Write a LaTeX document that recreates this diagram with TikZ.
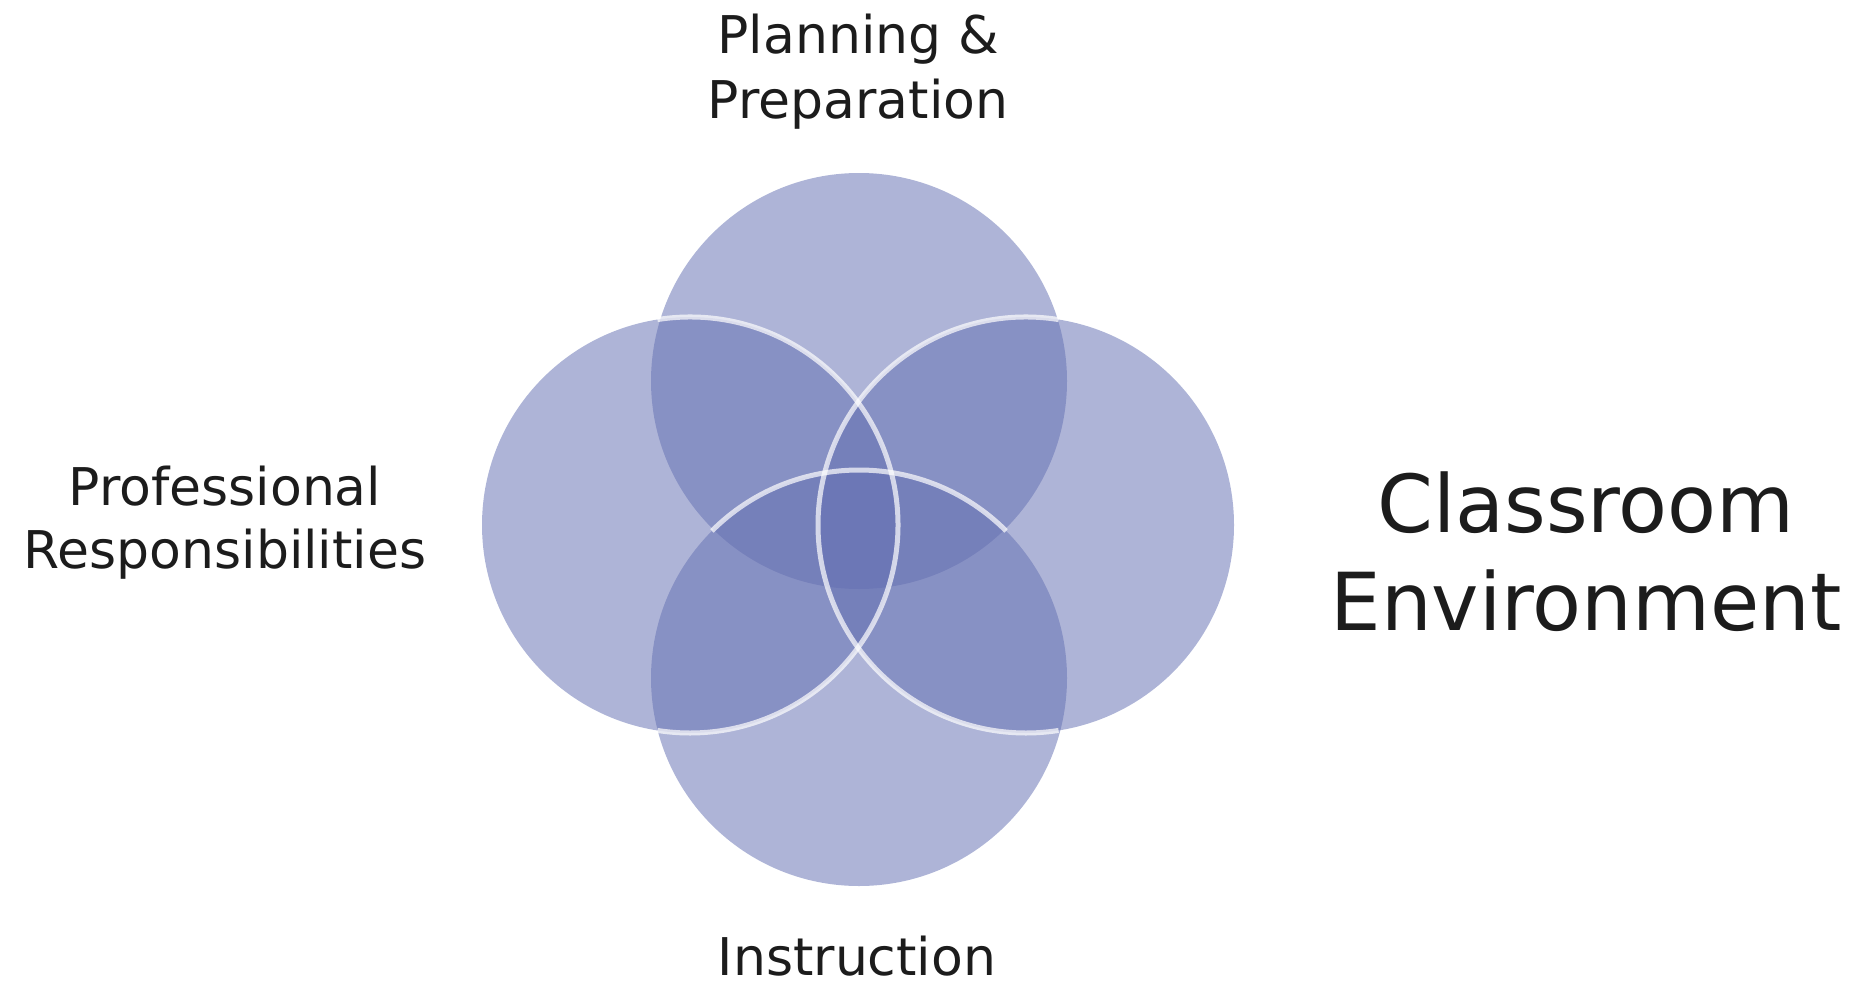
\documentclass[tikz,border=0pt]{standalone}
\usepackage{fontspec}
\setmainfont{DejaVu Sans}
\definecolor{vennblue}{RGB}{100,112,178}
\definecolor{inkgray}{RGB}{28,28,28}

\begin{document}
\begin{tikzpicture}[x=1pt,y=-1pt,
    venn/.style={fill=vennblue,fill opacity=0.52},
    rim/.style={draw=white,draw opacity=0.7,line width=5pt},
    lbl/.style={inner sep=0pt,anchor=base,align=center,text=inkgray}]
    \useasboundingbox (0,0) rectangle (1860,985);
    \coordinate (T) at (859,381);
    \coordinate (R) at (1026,525);
    \coordinate (B) at (859,678);
    \coordinate (L) at (690,525);
    \foreach \c in {T,R,B,L}
        \fill[venn] (\c) circle (208);
    % white rims only where the circles overlap (y runs downwards)
    \draw[rim] (L) ++(-99:208) arc[start angle=-99,end angle=99,radius=208];
    \draw[rim] (R) ++(-81:208) arc[start angle=-81,end angle=-279,radius=208];
    \draw[rim] (B) ++(-45:208) arc[start angle=-45,end angle=-135,radius=208];
    % base anchor sits on the last line
    \node[lbl,font=\fontsize{52}{65}\selectfont] (plan) at (858,118) {Planning \&\\Preparation};
    \node[lbl,font=\fontsize{52}{63}\selectfont] (prof) at (225,568) {Professional\\Responsibilities};
    \node[lbl,font=\fontsize{52}{65}\selectfont] (inst) at (857,975) {Instruction};
    \node[lbl,font=\fontsize{80}{98}\selectfont] (clas) at (1586,630) {Classroom\\Environment};
\end{tikzpicture}
\end{document}
